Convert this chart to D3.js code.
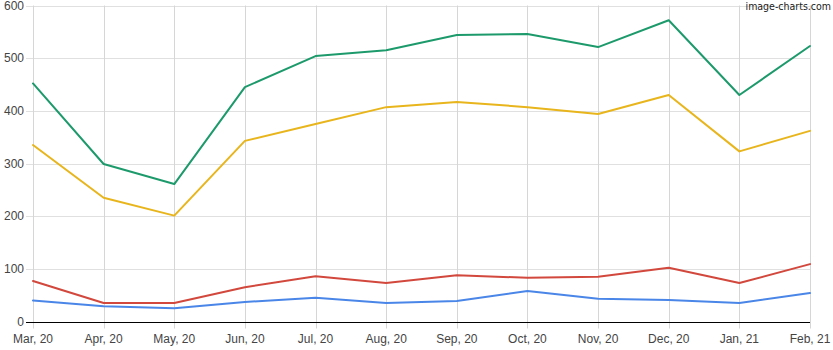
<!DOCTYPE html>
<html>
<head>
<meta charset="utf-8">
<script src="https://cdn.jsdelivr.net/npm/d3@7"></script>
<style>
  html, body { margin: 0; padding: 0; background: #fff; }
  svg { display: block; }
</style>
</head>
<body>
<svg id="chart" width="833" height="350"></svg>
<script>
// Monthly categories
const months = ["Mar, 20", "Apr, 20", "May, 20", "Jun, 20", "Jul, 20", "Aug, 20",
                "Sep, 20", "Oct, 20", "Nov, 20", "Dec, 20", "Jan, 21", "Feb, 21"];

// Series values
const greenSeries  = [452, 299, 261, 445, 504, 515, 544, 546, 521, 572, 430, 523];
const yellowSeries = [335, 235, 201, 343, 375, 407, 417, 407, 394, 430, 323, 362];
const redSeries    = [77, 35, 35, 65, 86, 73, 88, 83, 85, 102, 73, 109];
const blueSeries   = [40, 29, 25, 37, 45, 35, 39, 58, 43, 41, 35, 54];

// Y tick labels
const yTicks = [0, 100, 200, 300, 400, 500, 600];

const series = [
  { name: "green",  values: greenSeries,  color: "#1d9a6c" },
  { name: "yellow", values: yellowSeries, color: "#e8b51d" },
  { name: "red",    values: redSeries,    color: "#d2483d" },
  { name: "blue",   values: blueSeries,   color: "#4a86e8" }
];

const svg = d3.select("#chart");
const plotLeft = 33, plotRight = 810, plotTop = 5.5, plotBottom = 321.5;

const x = d3.scalePoint().domain(months).range([plotLeft, plotRight]);
const y = d3.scaleLinear().domain([0, 600]).range([plotBottom, plotTop]);

// Horizontal gridlines
svg.append("g")
  .selectAll("line")
  .data(yTicks)
  .join("line")
  .attr("x1", 26).attr("x2", plotRight)
  .attr("y1", d => Math.round(y(d)) + 0.5).attr("y2", d => Math.round(y(d)) + 0.5)
  .attr("stroke", "#e0e0e0").attr("stroke-width", 1);

// Vertical gridlines
svg.append("g")
  .selectAll("line")
  .data(months)
  .join("line")
  .attr("x1", d => Math.round(x(d)) + 0.5).attr("x2", d => Math.round(x(d)) + 0.5)
  .attr("y1", plotTop).attr("y2", plotBottom + 7)
  .attr("stroke", "#d6d6d6").attr("stroke-width", 1);

// Y axis labels
svg.append("g")
  .selectAll("text")
  .data(yTicks)
  .join("text")
  .attr("x", 24)
  .attr("y", d => y(d))
  .attr("dy", "0.35em")
  .attr("text-anchor", "end")
  .attr("font-family", "Liberation Sans, Arial, sans-serif")
  .attr("font-size", 12)
  .attr("fill", "#444")
  .text(d => d);

// X axis labels
svg.append("g")
  .selectAll("text")
  .data(months)
  .join("text")
  .attr("x", d => x(d))
  .attr("y", 343)
  .attr("text-anchor", "middle")
  .attr("font-family", "Liberation Sans, Arial, sans-serif")
  .attr("font-size", 12)
  .attr("fill", "#444")
  .text(d => d);

// Lines: straight segments with rounded joins
const line = d3.line()
  .x((d, i) => x(months[i]))
  .y(d => y(d))
  .curve(d3.curveLinear);

svg.append("g")
  .selectAll("path")
  .data(series)
  .join("path")
  .attr("d", d => line(d.values))
  .attr("fill", "none")
  .attr("stroke", d => d.color)
  .attr("stroke-width", 2)
  .attr("stroke-linejoin", "round")
  .attr("stroke-linecap", "round");

// Baseline
svg.append("line")
  .attr("x1", 26).attr("x2", plotRight)
  .attr("y1", Math.round(y(0)) + 0.5).attr("y2", Math.round(y(0)) + 0.5)
  .attr("stroke", "#000").attr("stroke-width", 1);

// Watermark
svg.append("text")
  .attr("x", 831)
  .attr("y", 10)
  .attr("text-anchor", "end")
  .attr("font-family", "DejaVu Sans Condensed, DejaVu Sans, sans-serif")
  .attr("font-size", 10.5)
  .attr("fill", "#222")
  .text("image-charts.com");
</script>
</body>
</html>
